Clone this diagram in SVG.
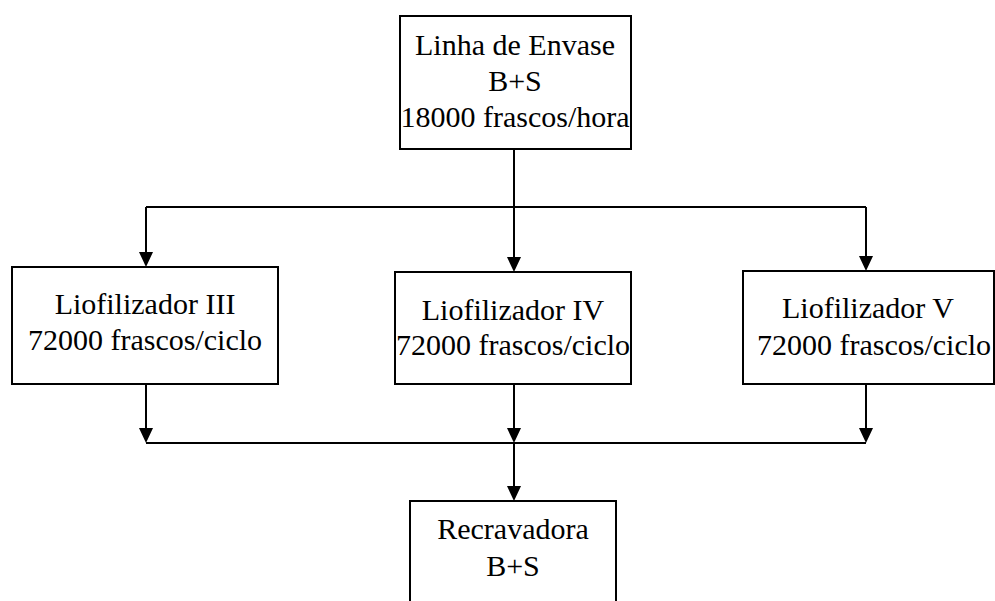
<svg xmlns="http://www.w3.org/2000/svg" width="995" height="601" viewBox="0 0 995 601">
<style>
.box{fill:#fff;stroke:#000;stroke-width:2}
.ln{fill:none;stroke:#000;stroke-width:2}
</style>
<rect width="995" height="601" fill="#fff"/>
<g id="connectors">
<line class="ln" x1="514" y1="149" x2="514" y2="207"/>
<line class="ln" x1="146" y1="207" x2="866" y2="207"/>
<path class="ln" d="M146,207 V252"/>
<path d="M139,252 L153,252 L146,267 Z"/>
<path class="ln" d="M514,207 V257"/>
<path d="M507,257 L521,257 L514,272 Z"/>
<path class="ln" d="M866,207 V256"/>
<path d="M859,256 L873,256 L866,271 Z"/>
<path class="ln" d="M146,384 V428"/>
<path d="M139,428 L153,428 L146,443 Z"/>
<path class="ln" d="M514,384 V428"/>
<path d="M507,428 L521,428 L514,443 Z"/>
<path class="ln" d="M866,384 V428"/>
<path d="M859,428 L873,428 L866,443 Z"/>
<line class="ln" x1="146" y1="443" x2="866" y2="443"/>
<path class="ln" d="M514,443 V486"/>
<path d="M507,486 L521,486 L514,501 Z"/>
</g>
<g font-family="'Liberation Serif', 'Times New Roman', 'DejaVu Serif', serif" font-size="30" fill="#000" text-anchor="middle">
<g id="linha">
<rect class="box" x="400" y="16" width="231" height="133"/>
<text x="515" y="55">Linha de Envase</text>
<text x="515" y="91">B+S</text>
<text x="515" y="127">18000 frascos/hora</text>
</g>
<g id="lio3">
<rect class="box" x="12" y="267" width="266" height="117"/>
<text x="145" y="314">Liofilizador III</text>
<text x="145" y="350">72000 frascos/ciclo</text>
</g>
<g id="lio4">
<rect class="box" x="395" y="272" width="236" height="112"/>
<text x="513" y="320">Liofilizador IV</text>
<text x="513" y="355">72000 frascos/ciclo</text>
</g>
<g id="lio5">
<rect class="box" x="743" y="271" width="251" height="113"/>
<text x="868" y="318">Liofilizador V</text>
<text x="874" y="355">72000 frascos/ciclo</text>
</g>
<g id="recravadora">
<rect class="box" x="410" y="501" width="206" height="110"/>
<text x="513" y="539">Recravadora</text>
<text x="513" y="576">B+S</text>
</g>
</g>
</svg>
